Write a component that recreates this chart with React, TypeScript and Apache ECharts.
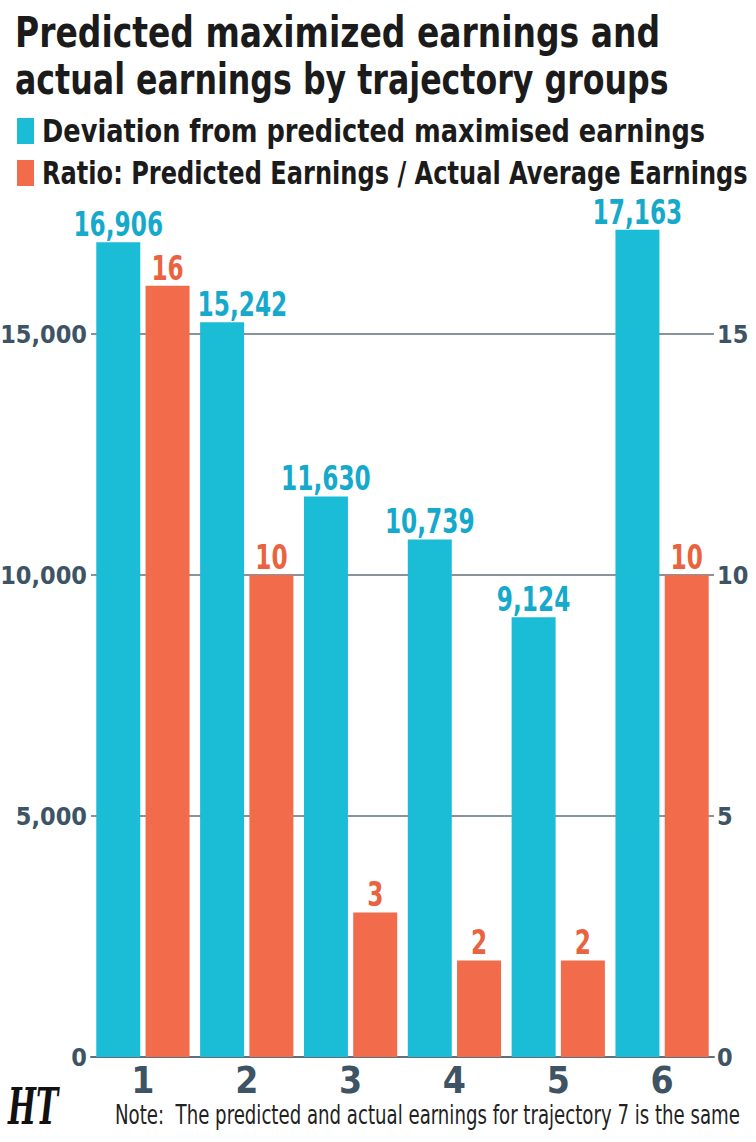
import React, { useEffect, useRef } from "react";
import * as echarts from "echarts";

const categories = ["1", "2", "3", "4", "5", "6"];
const deviationValues = [16906, 15242, 11630, 10739, 9124, 17163];
const ratioValues = [16, 10, 3, 2, 2, 10];
const seriesNames = [
  "Deviation from predicted maximised earnings",
  "Ratio: Predicted Earnings / Actual Average Earnings",
];
const titleLines = ["Predicted maximized earnings and", "actual earnings by trajectory groups"];
const noteText = "Note:  The predicted and actual earnings for trajectory 7 is the same";

const LEFT_MAX = 15000;
const RIGHT_MAX = 15;
const FONT = "'DejaVu Sans Condensed', 'DejaVu Sans', sans-serif";
const BLUE = "#1bbdd6";
const ORANGE = "#f26c4c";
const BLUE_TXT = "#15a9cb";
const ORANGE_TXT = "#ea6340";
const AXIS_TXT = "#3e5363";
const GRID_LINE = "#5f707c";
const BAR_W = 44;
const BAR_GAP = 0.12;
const LABEL_SCALE = 0.76;
const LABEL_FONT = `bold 34px ${FONT}`;

let measureCtx: CanvasRenderingContext2D | null = null;
function textWidth(text: string, font: string) {
  if (!measureCtx) measureCtx = document.createElement("canvas").getContext("2d")!;
  measureCtx.font = font;
  return measureCtx.measureText(text).width;
}
function fitScale(text: string, font: string, target: number) {
  const w = textWidth(text, font);
  return w > 0 ? target / w : 1;
}

function labelSeries(values: number[], axisIndex: number, side: number, color: string, fmt: (v: number) => string) {
  return {
    type: "custom",
    yAxisIndex: axisIndex,
    clip: false,
    silent: true,
    z: 10,
    data: values.map((v, i) => [i, v]),
    encode: { x: 0, y: 1 },
    renderItem: (_p: any, api: any) => {
      const idx = api.value(0);
      const val = api.value(1);
      const pt = api.coord([idx, val]);
      const off = side * (BAR_W * (1 + BAR_GAP)) / 2;
      const text = fmt(val);
      let x = pt[0] + off;
      const halfW = (textWidth(text, LABEL_FONT) * LABEL_SCALE) / 2;
      // keep a blue label clear of the previous group's orange bar
      if (side < 0 && idx > 0) {
        const prevRatio = ratioValues[idx - 1] * (LEFT_MAX / RIGHT_MAX);
        const prevPt = api.coord([idx - 1, prevRatio]);
        const prevRight = prevPt[0] + (BAR_W * (1 + BAR_GAP)) / 2 + BAR_W / 2;
        if (prevPt[1] < pt[1] && x - halfW < prevRight + 8) x = prevRight + 8 + halfW;
      }
      return {
        type: "text",
        x,
        y: pt[1] - 1,
        scaleX: LABEL_SCALE,
        style: {
          text,
          fontFamily: FONT,
          fontSize: 34,
          fontWeight: "bold",
          fill: color,
          align: "center",
          verticalAlign: "bottom",
        },
      };
    },
  };
}

export default function App() {
  const ref = useRef<HTMLDivElement>(null);
  useEffect(() => {
    const chart = echarts.init(ref.current!, null, { renderer: "svg" });
    const tFont = `bold 42px ${FONT}`;
    const lFont = `bold 32px ${FONT}`;
    const nFont = `26px ${FONT}`;
    const hFont = `bold italic 50px 'DejaVu Serif', serif`;
    const textEl = (text: string, x: number, y: number, size: number, weight: string, fill: string, sx: number, family = FONT, style = "normal") => ({
      type: "text",
      x,
      y,
      scaleX: sx,
      silent: true,
      style: {
        text,
        fontFamily: family,
        fontSize: size,
        fontWeight: weight,
        fontStyle: style,
        fill,
        align: "left",
        verticalAlign: "middle",
      },
    });
    chart.setOption({
      animation: false,
      backgroundColor: "#ffffff",
      textStyle: { fontFamily: FONT },
      grid: { left: 91, right: 42, top: 334, bottom: 85, containLabel: false, outerBoundsMode: "none" },
      xAxis: {
        type: "category",
        data: categories,
        axisTick: { show: false },
        axisLine: { show: true, lineStyle: { color: GRID_LINE, width: 2 } },
        axisLabel: {
          fontFamily: FONT,
          fontSize: 37,
          fontWeight: "bold",
          color: AXIS_TXT,
          margin: 5,
        },
      },
      yAxis: [
        {
          type: "value",
          min: 0,
          max: LEFT_MAX,
          interval: 5000,
          axisLine: { show: false },
          axisTick: { show: false },
          splitLine: { lineStyle: { color: GRID_LINE, width: 1.5 } },
          axisLabel: {
            fontFamily: FONT,
            fontSize: 25,
            fontWeight: "bold",
            color: AXIS_TXT,
            margin: 4,
            formatter: (v: number) => v.toLocaleString("en-US"),
          },
        },
        {
          type: "value",
          min: 0,
          max: RIGHT_MAX,
          interval: 5,
          axisLine: { show: false },
          axisTick: { show: false },
          splitLine: { show: false },
          axisLabel: {
            fontFamily: FONT,
            fontSize: 25,
            fontWeight: "bold",
            color: AXIS_TXT,
            margin: 3,
          },
        },
      ],
      series: [
        {
          name: seriesNames[0],
          type: "bar",
          data: deviationValues,
          yAxisIndex: 0,
          barWidth: BAR_W,
          barGap: `${BAR_GAP * 100}%`,
          clip: false,
          itemStyle: { color: BLUE },
        },
        {
          name: seriesNames[1],
          type: "bar",
          data: ratioValues,
          yAxisIndex: 1,
          barWidth: BAR_W,
          barGap: `${BAR_GAP * 100}%`,
          clip: false,
          itemStyle: { color: ORANGE },
        },
        labelSeries(deviationValues, 0, -1, BLUE_TXT, (v) => v.toLocaleString("en-US")),
        labelSeries(ratioValues, 1, 1, ORANGE_TXT, (v) => String(v)),
      ],
      graphic: [
        textEl(titleLines[0], 15, 32, 42, "bold", "#1b1b1b", fitScale(titleLines[0], tFont, 645)),
        textEl(titleLines[1], 15, 79, 42, "bold", "#1b1b1b", fitScale(titleLines[1], tFont, 654)),
        { type: "rect", shape: { x: 17, y: 118, width: 17, height: 26 }, style: { fill: BLUE }, silent: true },
        { type: "rect", shape: { x: 17, y: 160, width: 17, height: 26 }, style: { fill: ORANGE }, silent: true },
        textEl(seriesNames[0], 42, 131, 32, "bold", "#1b1b1b", fitScale(seriesNames[0], lFont, 663)),
        textEl(seriesNames[1], 42, 173, 32, "bold", "#1b1b1b", fitScale(seriesNames[1], lFont, 706)),
        textEl("HT", 8, 1106, 50, "bold", "#111111", fitScale("HT", hFont, 50), "'DejaVu Serif', serif", "italic"),
        textEl(noteText, 115, 1115, 26, "normal", "#222222", fitScale(noteText, nFont, 625)),
      ],
    });
    return () => chart.dispose();
  }, []);
  return <div ref={ref} style={{ width: 756, height: 1142, position: "absolute", left: 0, top: 0 }} />;
}
